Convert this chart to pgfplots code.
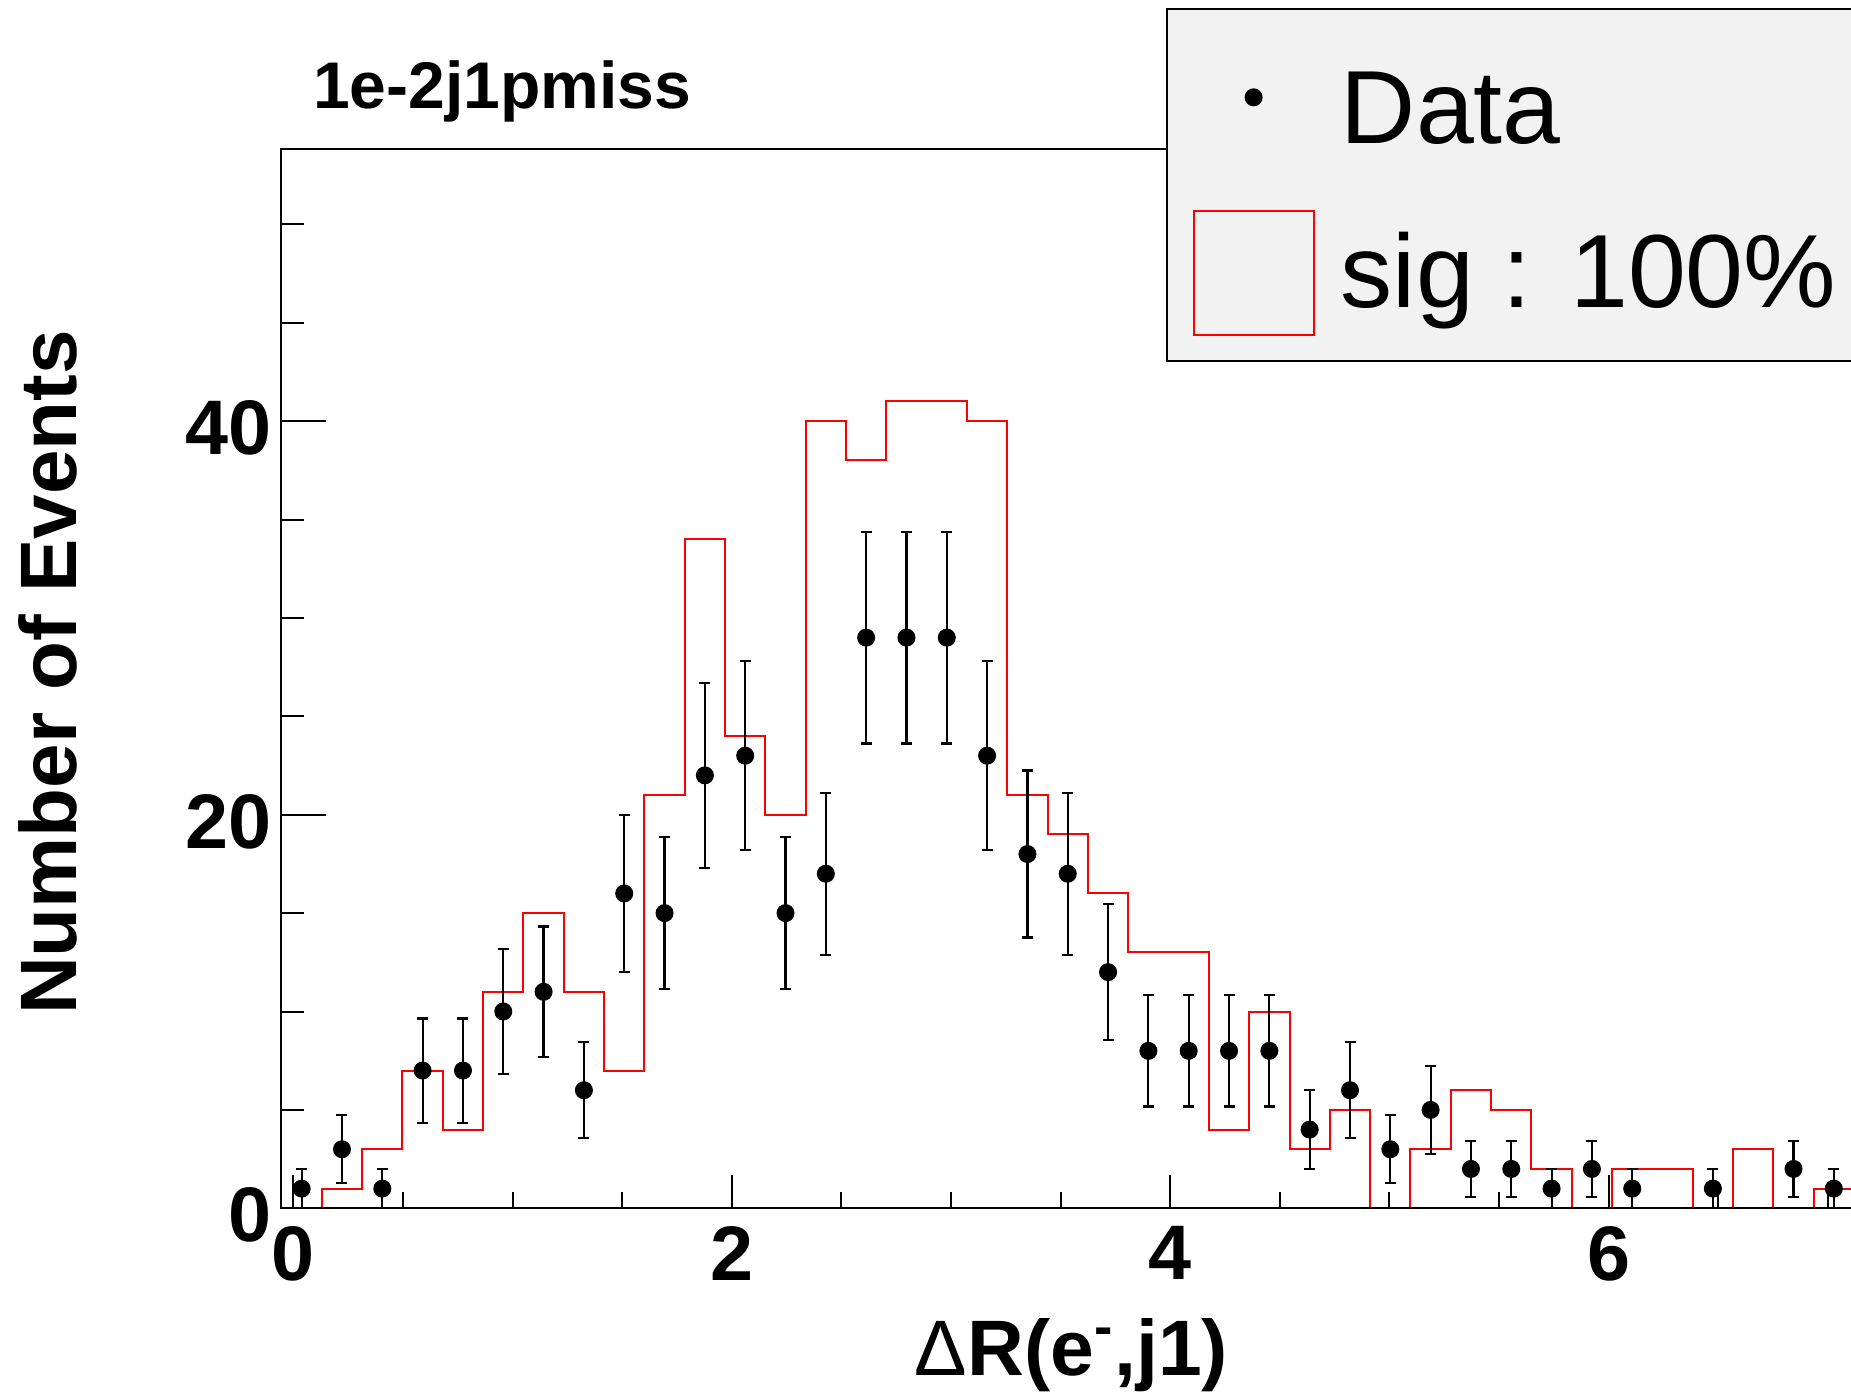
\documentclass[border=0pt]{standalone}
\usepackage{fontspec}
\setmainfont{Liberation Sans}
\usepackage{pgfplots}
\pgfplotsset{compat=1.18}
\begin{document}
\begin{tikzpicture}
\useasboundingbox (0,0) rectangle (555.3pt,417.9pt);
\clip (0,0) rectangle (555.3pt,417.9pt);
\begin{axis}[
  at={(84.45pt,55.41pt)}, anchor=south west,
  scale only axis, width=483.84pt, height=317.79pt,
  xmin=-0.0541, xmax=7.3035, ymin=0, ymax=53.83,
  axis on top,
  axis line style={line width=0.6pt},
  tick style={black, line width=0.6pt},
  tick align=inside,
  xtick pos=bottom, ytick pos=left,
  xtick={0,2,4,6},
  minor xtick={0.5,1,1.5,2.5,3,3.5,4.5,5,5.5,6.5,7},
  ytick={0,20,40},
  minor ytick={5,10,15,25,30,35,45,50},
  major tick length=13.2pt, minor tick length=6.6pt,
  xtick style={/pgfplots/major tick length=10pt, /pgfplots/minor tick length=5pt},
  /pgf/number format/assume math mode=true,
  tick label style={font=\bfseries\fontsize{23.2}{23.2}\selectfont},
  yticklabel style={anchor=east, inner sep=0pt, xshift=-2.9pt, yshift=-2pt},
  xticklabel style={anchor=north, inner sep=0pt, yshift=-5.2pt},
  every axis title shift=0pt,
  title={1e-2j1pmiss},
  title style={at={(axis description cs:0.0193,1.0384)}, anchor=base west, inner sep=0pt, font=\bfseries\fontsize{19.8}{19.8}\selectfont},
  xlabel={{\mdseries Δ}R(e\textsuperscript{-},j1)},
  xlabel style={at={(axis description cs:0.4898,-0.1583)}, anchor=base, inner sep=0pt, font=\bfseries\fontsize{23.6}{23.6}\selectfont},
  ylabel={Number of Events},
  ylabel style={at={(axis description cs:-0.1268,0.5058)}, anchor=base, inner sep=0pt, font=\bfseries\fontsize{24}{24}\selectfont},
  legend style={at={(0.5484,1.1328)}, anchor=north west,
    fill={rgb,255:red,242;green,242;blue,242}, draw=black, line width=0.6pt,
    inner xsep=7.7pt, inner ysep=0pt, row sep=0pt, column sep=7.9pt,
    nodes={inner sep=0pt, minimum height=52.8pt, font=\fontsize{31.2}{31.2}\selectfont}},
  legend cell align=left,
  reverse legend,
]
\addplot[red, line width=0.6pt, const plot mark left,
  legend image code/.code={\path[draw=none,fill=none] (0pt,-26.4pt) rectangle (36pt,26.4pt);
    \draw[red, line width=0.6pt, fill=none] (0pt,-18.55pt) rectangle (36pt,18.55pt);}]
table {
x y
-0.0541 0
0.1298 1
0.3138 3
0.4977 7
0.6817 4
0.8656 11
1.0495 15
1.2335 11
1.4174 7
1.6014 21
1.7853 34
1.9693 24
2.1532 20
2.3371 40
2.5211 38
2.7050 41
2.8890 41
3.0729 40
3.2568 21
3.4408 19
3.6247 16
3.8087 13
3.9926 13
4.1765 4
4.3605 10
4.5444 3
4.7284 5
4.9123 0
5.0962 3
5.2802 6
5.4641 5
5.6481 2
5.8320 0
6.0159 2
6.1999 2
6.3838 0
6.5677 3
6.7517 0
6.9356 1
7.1196 0
7.3035 0
};
\addlegendentry[text height=28.8pt, text depth=8pt]{sig : 100\%\hspace{24pt}}
\addplot[black, only marks, mark=*, mark size=2.5pt,
  error bars/.cd, y dir=both, y explicit,
  error bar style={line width=0.65pt, black},
  error mark=-,
  error mark options={rotate=90, mark size=1.65pt, line width=0.65pt, black},
  /pgfplots/legend image code/.code={\path[draw=none,fill=none] (0pt,-26.4pt) rectangle (36pt,26.4pt);
    \fill[black] (18pt,0pt) circle (2.4pt);}]
table[x=x, y=y, y error=e] {
x y e
0.0379 1 1
0.2218 3 1.732
0.4058 1 1
0.5897 7 2.646
0.7737 7 2.646
0.9576 10 3.162
1.1415 11 3.317
1.3255 6 2.449
1.5094 16 4
1.6934 15 3.873
1.8773 22 4.690
2.0613 23 4.796
2.2452 15 3.873
2.4291 17 4.123
2.6131 29 5.385
2.7970 29 5.385
2.9810 29 5.385
3.1649 23 4.796
3.3488 18 4.243
3.5328 17 4.123
3.7167 12 3.464
3.9007 8 2.828
4.0846 8 2.828
4.2685 8 2.828
4.4525 8 2.828
4.6364 4 2
4.8204 6 2.449
5.0043 3 1.732
5.1882 5 2.236
5.3722 2 1.414
5.5561 2 1.414
5.7401 1 1
5.9240 2 1.414
6.1079 1 1
6.4758 1 1
6.8437 2 1.414
7.0276 1 1
};
\addlegendentry[text height=31pt, text depth=3pt]{Data}
\end{axis}
\end{tikzpicture}
\end{document}
